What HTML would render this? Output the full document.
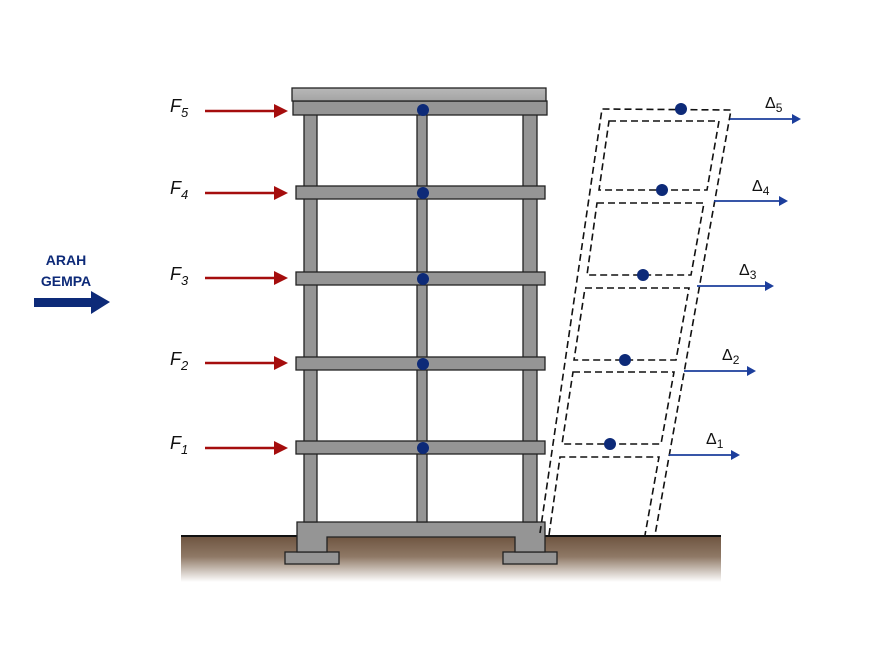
<!DOCTYPE html>
<html><head><meta charset="utf-8"><style>
html,body{margin:0;padding:0;background:#fff;}
svg{display:block;}
text{font-family:"Liberation Sans",sans-serif;}
</style></head><body>
<svg width="870" height="653" viewBox="0 0 870 653" xmlns="http://www.w3.org/2000/svg">
<defs>
<linearGradient id="soil" x1="0" y1="0" x2="0" y2="1">
<stop offset="0" stop-color="#6e5440"/>
<stop offset="0.45" stop-color="#8f7966"/>
<stop offset="1" stop-color="#ffffff"/>
</linearGradient>
<linearGradient id="slab" x1="0" y1="0" x2="0" y2="1">
<stop offset="0" stop-color="#b8b8b8"/><stop offset="1" stop-color="#a4a4a4"/>
</linearGradient>
</defs>
<rect x="181" y="536" width="540" height="46" fill="url(#soil)"/>
<line x1="181" y1="536" x2="721" y2="536" stroke="#111" stroke-width="2"/>

<g stroke="#222" stroke-width="1.3" fill="#959595">
<rect x="285" y="552" width="54" height="12"/>
<rect x="503" y="552" width="54" height="12"/>
<path d="M297,522 H545 V552 H515 V537 H327 V552 H297 Z"/>
<rect x="304" y="101" width="13" height="421"/>
<rect x="417" y="101" width="10" height="421"/>
<rect x="523" y="101" width="14" height="421"/>
<rect x="293" y="101" width="254" height="14"/>
<rect x="296" y="186" width="249" height="13"/>
<rect x="296" y="272" width="249" height="13"/>
<rect x="296" y="357" width="249" height="13"/>
<rect x="296" y="441" width="249" height="13"/>
<rect x="292" y="88" width="254" height="13" fill="url(#slab)"/>
</g>
<g fill="#0d2a78">
<circle cx="423" cy="110" r="6"/><circle cx="423" cy="193" r="6"/>
<circle cx="423" cy="279" r="6"/><circle cx="423" cy="364" r="6"/><circle cx="423" cy="448" r="6"/>
</g>

<g fill="none" stroke="#111" stroke-width="1.6" stroke-dasharray="7,4">
<path d="M540,533 L602,109 L731,110 L655,535"/>
<path d="M609,121 L719,121 L707,190 L599,190 Z"/>
<path d="M597,203 L704,203 L691,275 L587,275 Z"/>
<path d="M585,288 L689,288 L676,360 L574,360 Z"/>
<path d="M573,372 L674,372 L661,444 L562,444 Z"/>
<path d="M549,535 L560,457 L659,457 L645,535"/>
</g>
<g fill="#0d2a78">
<circle cx="681" cy="109" r="6"/><circle cx="662" cy="190" r="6"/>
<circle cx="643" cy="275" r="6"/><circle cx="625" cy="360" r="6"/><circle cx="610" cy="444" r="6"/>
</g>

<g stroke="#a50d0d" stroke-width="2.5" fill="#a50d0d">
<line x1="205" y1="111" x2="276" y2="111"/><path d="M274,104 L288,111 L274,118 Z" stroke="none"/>
<line x1="205" y1="193" x2="276" y2="193"/><path d="M274,186 L288,193 L274,200 Z" stroke="none"/>
<line x1="205" y1="278" x2="276" y2="278"/><path d="M274,271 L288,278 L274,285 Z" stroke="none"/>
<line x1="205" y1="363" x2="276" y2="363"/><path d="M274,356 L288,363 L274,370 Z" stroke="none"/>
<line x1="205" y1="448" x2="276" y2="448"/><path d="M274,441 L288,448 L274,455 Z" stroke="none"/>
</g>
<g font-size="18" font-style="italic" fill="#111">
<text x="170" y="112">F<tspan font-size="13" dy="5">5</tspan></text>
<text x="170" y="194">F<tspan font-size="13" dy="5">4</tspan></text>
<text x="170" y="280">F<tspan font-size="13" dy="5">3</tspan></text>
<text x="170" y="365">F<tspan font-size="13" dy="5">2</tspan></text>
<text x="170" y="449">F<tspan font-size="13" dy="5">1</tspan></text>
</g>

<g stroke="#1c3e9c" stroke-width="1.8" fill="#1c3e9c">
<line x1="730" y1="119" x2="794" y2="119"/><path d="M792,114 L801,119 L792,124 Z" stroke="none"/>
<line x1="714" y1="201" x2="781" y2="201"/><path d="M779,196 L788,201 L779,206 Z" stroke="none"/>
<line x1="697" y1="286" x2="767" y2="286"/><path d="M765,281 L774,286 L765,291 Z" stroke="none"/>
<line x1="684" y1="371" x2="749" y2="371"/><path d="M747,366 L756,371 L747,376 Z" stroke="none"/>
<line x1="669" y1="455" x2="733" y2="455"/><path d="M731,450 L740,455 L731,460 Z" stroke="none"/>
</g>
<g font-size="16" fill="#111">
<text x="765" y="108">Δ<tspan font-size="12" dy="4">5</tspan></text>
<text x="752" y="191">Δ<tspan font-size="12" dy="4">4</tspan></text>
<text x="739" y="275">Δ<tspan font-size="12" dy="4">3</tspan></text>
<text x="722" y="360">Δ<tspan font-size="12" dy="4">2</tspan></text>
<text x="706" y="444">Δ<tspan font-size="12" dy="4">1</tspan></text>
</g>

<g fill="#0d2a78" font-weight="bold" font-size="14" text-anchor="middle">
<text x="66" y="265">ARAH</text>
<text x="66" y="286">GEMPA</text>
</g>
<path d="M34,298 H91 V291 L110,302 L91,314 V307 H34 Z" fill="#0d2a78"/>
</svg>
</body></html>
